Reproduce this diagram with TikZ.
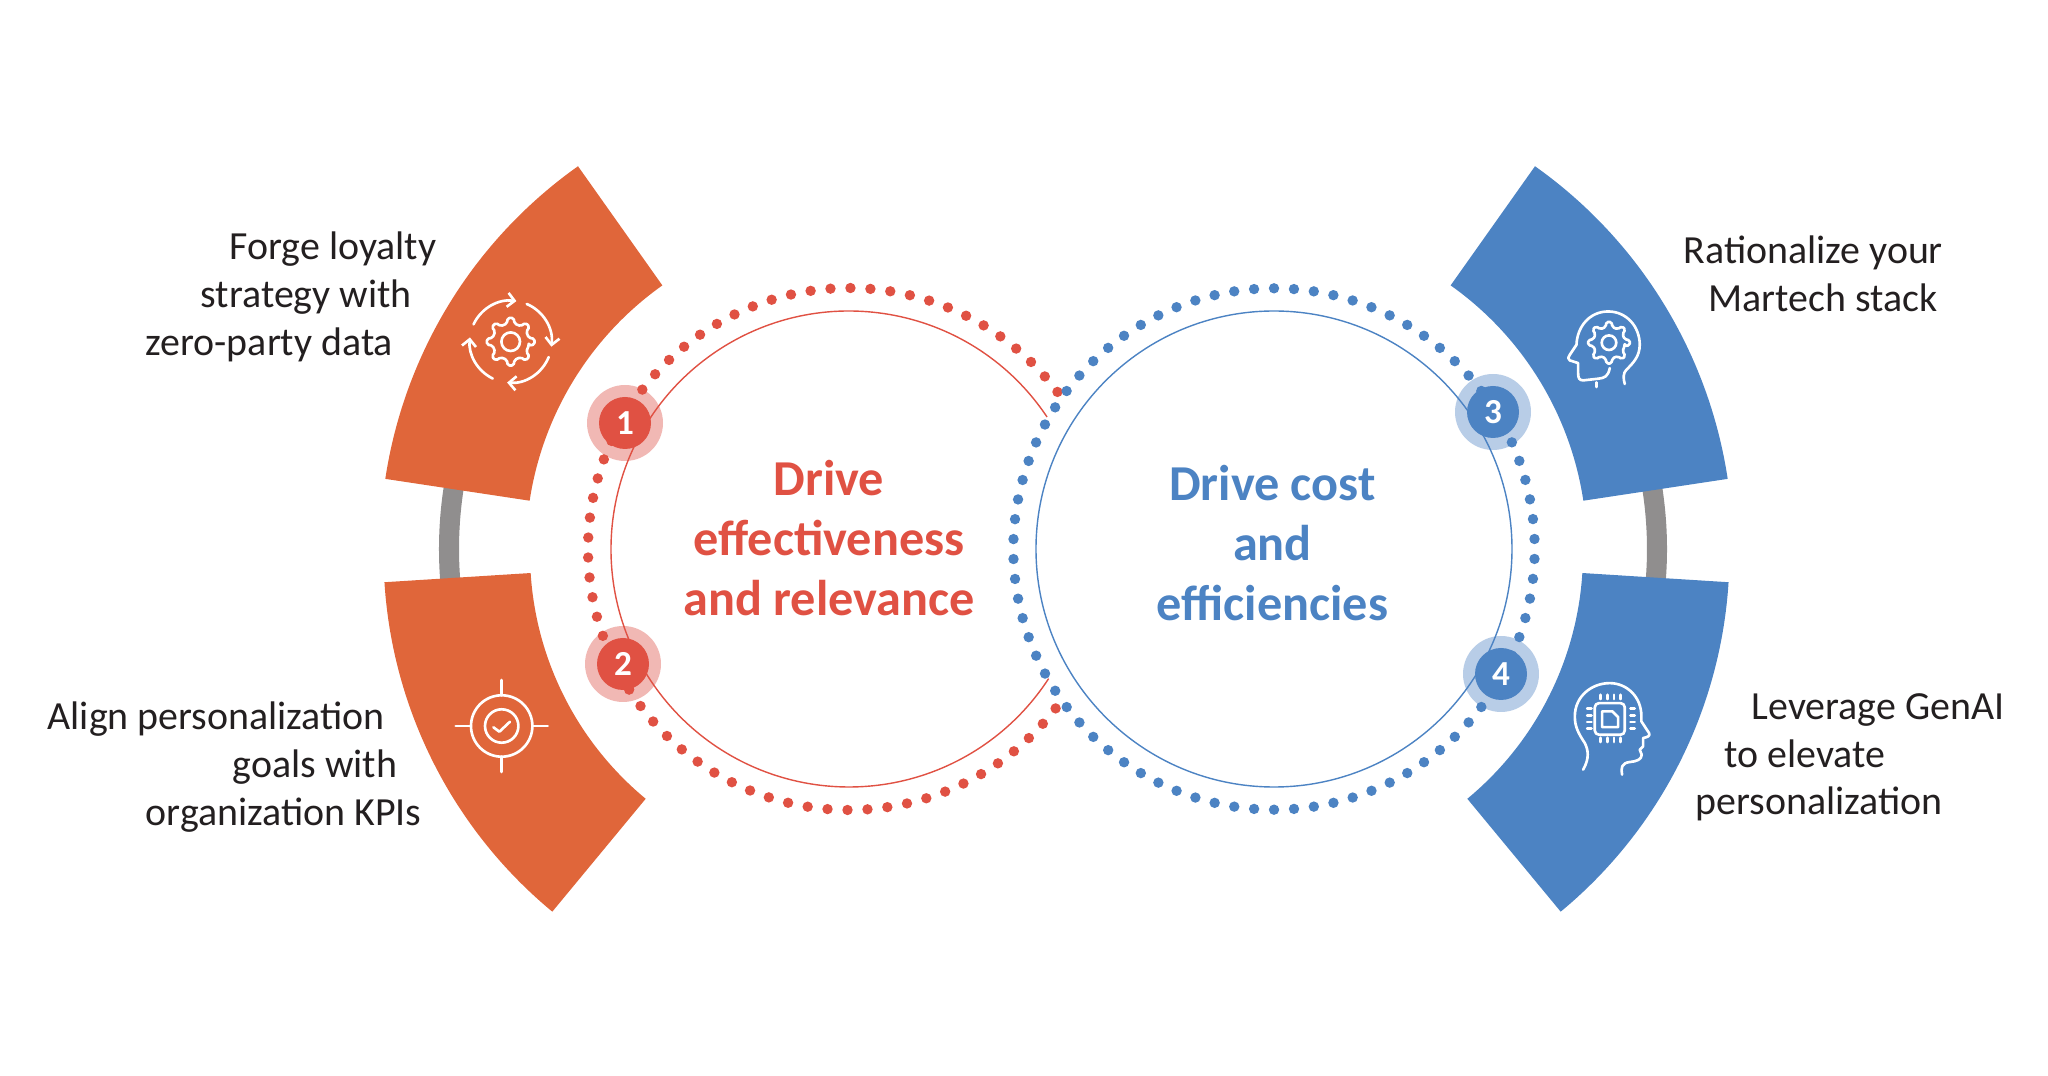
\documentclass[tikz,border=0pt]{standalone}
\usepackage{fontspec}
\setmainfont{Carlito}
\usetikzlibrary{arrows.meta}

\definecolor{bandorange}{HTML}{E0663A}
\definecolor{bandblue}{HTML}{4C83C3}
\definecolor{dotred}{HTML}{E05143}
\definecolor{halored}{HTML}{F1B8B4}
\definecolor{haloblue}{HTML}{B8CDE7}
\definecolor{stemgrey}{HTML}{908E8E}
\definecolor{textdark}{HTML}{231F20}

\tikzset{
	sidetext/.style={anchor=base west, inner sep=0pt, text=textdark, font=\fontsize{11.35}{13}\selectfont},
	headtext/.style={align=center, inner sep=0pt, font=\fontsize{14.3}{17}\selectfont\bfseries},
	halonode/.style={circle, minimum size=0.76cm, inner sep=0pt},
	numnode/.style={circle, minimum size=0.52cm, inner sep=0pt, text=white, font=\fontsize{10}{12}\selectfont\bfseries},
	iconline/.style={draw=white, line width=0.75pt, line cap=round, line join=round},
	icontip/.style={-{Straight Barb[length=2pt,width=4pt]}},
	icongrid/.style={x=0.0333mm, y=-0.0333mm},
}

% gear outline: outer radius, inner radius, hub radius
\newcommand{\geardraw}[3]{
	\draw[iconline, rounded corners=0.5pt] (-12:#2)
		\foreach \a in {0,45,...,315} { -- ({\a-12}:#2) -- ({\a-7}:#1) -- ({\a+7}:#1) -- ({\a+12}:#2) } -- cycle;
	\draw[iconline] (0,0) circle (#3);
}

\begin{document}
\begin{tikzpicture}
	\useasboundingbox (0,0) rectangle (20.48,10.76);
	\coordinate (redc) at (8.49,5.27);
	\coordinate (bluec) at (12.74,5.27);
	\coordinate (bandr) at (12.64,5.27);
	\coordinate (lowl) at (8.49,5.23);
	\coordinate (lowr) at (12.64,5.23);

	% stems behind the bands
	\draw[stemgrey, line width=5.7pt, shift={(redc)}] (165:4.0) arc[start angle=165, end angle=195, radius=4.0];
	\draw[stemgrey, line width=5.7pt, shift={(bandr)}] (-15:3.93) arc[start angle=-15, end angle=15, radius=3.93];

	% bands
	\fill[bandorange, shift={(redc)}] (125.3:4.69) arc[start angle=125.3, end angle=171.4, radius=4.69] -- (171.4:3.23) arc[start angle=171.4, end angle=125.3, radius=3.23] -- cycle;
	\fill[bandorange, shift={(lowl)}] (183.6:4.655) arc[start angle=183.6, end angle=230.4, radius=4.655] -- (230.4:3.19) arc[start angle=230.4, end angle=183.6, radius=3.19] -- cycle;
	\fill[bandblue, shift={(bandr)}] (54.7:4.69) arc[start angle=54.7, end angle=8.6, radius=4.69] -- (8.6:3.23) arc[start angle=8.6, end angle=54.7, radius=3.23] -- cycle;
	\fill[bandblue, shift={(lowr)}] (-3.6:4.655) arc[start angle=-3.6, end angle=-50.4, radius=4.655] -- (-50.4:3.19) arc[start angle=-50.4, end angle=-3.6, radius=3.19] -- cycle;

	% halos under the rings
	\node[halonode, fill=halored] (haloone) at (6.25,6.53) {};
	\node[halonode, fill=halored] (halotwo) at (6.23,4.12) {};
	\node[halonode, fill=haloblue] (halothree) at (14.93,6.64) {};
	\node[halonode, fill=haloblue] (halofour) at (15.01,4.02) {};

	% rings
	\draw[dotred, line width=0.4pt, shift={(redc)}] (33.7:2.38) arc[start angle=33.7, end angle=327, radius=2.38];
	\draw[bandblue, line width=0.4pt] (bluec) circle (2.38);
	\foreach \i in {0,...,65}
		\fill[dotred, shift={(redc)}] ({37+\i*4.39}:2.61) circle (0.052);
	\foreach \i in {0,...,81}
		\fill[bandblue, shift={(bluec)}] ({142.7+\i*4.39}:2.607) circle (0.052);

	% numbers
	\node[numnode, fill=dotred] (numone) at (haloone) {1};
	\node[numnode, fill=dotred] (numtwo) at (halotwo) {2};
	\node[numnode, fill=bandblue] (numthree) at (halothree) {3};
	\node[numnode, fill=bandblue] (numfour) at (halofour) {4};

	% headings
	\node[headtext, text=dotred] (headred) at (8.29,5.38) {Drive\\effectiveness\\and relevance};
	\node[headtext, text=bandblue] (headblue) at (12.725,5.33) {Drive cost\\and\\efficiencies};

	% side texts
	\node[sidetext] (forgea) at (2.29,8.16) {Forge loyalty};
	\node[sidetext] (forgeb) at (2.00,7.68) {strategy with};
	\node[sidetext] (forgec) at (1.45,7.20) {zero-party data};
	\node[sidetext] (aligna) at (0.47,3.46) {Align personalization};
	\node[sidetext] (alignb) at (2.32,2.98) {goals with};
	\node[sidetext] (alignc) at (1.45,2.50) {organization KPIs};
	\node[sidetext] (martecha) at (16.83,8.12) {Rationalize your};
	\node[sidetext] (martechb) at (17.08,7.64) {Martech stack};
	\node[sidetext] (genaia) at (17.51,3.56) {Leverage GenAI};
	\node[sidetext] (genaib) at (17.24,3.08) {to elevate};
	\node[sidetext] (genaic) at (16.95,2.61) {personalization};

	% icon: gear with arrows
	\begin{scope}[shift={(5.107,7.343)}]
		\geardraw{0.24}{0.185}{0.093}
		\draw[iconline, icontip] (155:0.41) arc[start angle=155, end angle=82, radius=0.41];
		\draw[iconline, icontip] (67:0.41) arc[start angle=67, end angle=-7, radius=0.41];
		\draw[iconline, icontip] (-22:0.41) arc[start angle=-22, end angle=-95, radius=0.41];
		\draw[iconline, icontip] (-116:0.41) arc[start angle=-116, end angle=-186, radius=0.41];
	\end{scope}

	% icon: target with tick
	\begin{scope}[shift={(5.017,3.50)}]
		\draw[iconline] (0,0) circle (0.307);
		\draw[iconline] (0,0) circle (0.167);
		\foreach \a in {0,90,180,270}
			\draw[iconline] (\a:0.307) -- (\a:0.46);
		\draw[iconline] (-0.083,-0.013) -- (-0.023,-0.057) -- (0.083,0.043);
	\end{scope}

	% icon: head with gear
	\begin{scope}[shift={(14.30,9.26)}, icongrid]
		\draw[iconline] (540,655) .. controls (535,680) and (525,685) .. (505,687) -- (460,692) .. controls (448,692) and (445,685) .. (445,670) -- (445,640) -- (420,632) .. controls (412,628) and (415,622) .. (420,615) -- (440,585) .. controls (442,530) and (480,485) .. (535,485) .. controls (590,485) and (630,530) .. (630,585) .. controls (630,620) and (610,640) .. (590,660) .. controls (580,670) and (580,685) .. (585,703);
		\draw[iconline] (501,698) -- (501,712);
	\end{scope}
	\begin{scope}[shift={(16.09,7.333)}]
		\geardraw{0.21}{0.16}{0.073}
	\end{scope}

	% icon: head with chip
	\begin{scope}[shift={(14.30,5.56)}, icongrid]
		\draw[iconline] (460,750) .. controls (480,715) and (475,690) .. (465,670) .. controls (445,640) and (435,620) .. (435,590) .. controls (435,530) and (485,490) .. (540,490) .. controls (590,490) and (635,530) .. (635,590) -- (635,605) -- (658,640) .. controls (662,648) and (655,652) .. (640,655) -- (640,680) -- (630,690) -- (636,705) .. controls (636,720) and (620,725) .. (600,727) .. controls (575,730) and (573,745) .. (577,765);
		\draw[iconline, rounded corners=1.2pt] (495,550) rectangle (585,645);
		\draw[iconline] (517,575) -- (548,575) -- (565,592) -- (565,622) -- (517,622) -- cycle;
		\foreach \x in {513,533,553,573} {
			\draw[iconline] (\x,525) -- (\x,538);
			\draw[iconline] (\x,654) -- (\x,667);
		}
		\foreach \y in {567,587,607,627} {
			\draw[iconline] (472,\y) -- (485,\y);
			\draw[iconline] (602,\y) -- (615,\y);
		}
	\end{scope}
\end{tikzpicture}
\end{document}
